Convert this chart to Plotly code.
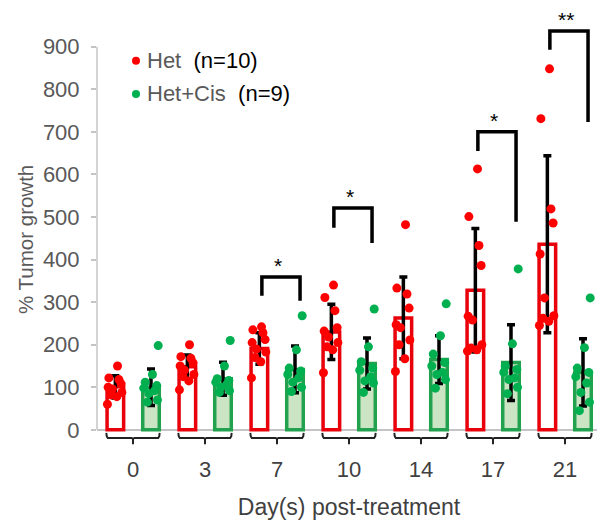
import plotly.graph_objects as go

# ---------------- data ----------------
days = ["0", "3", "7", "10", "14", "17", "21"]

het_mean = [101, 148, 191, 230, 263, 328, 436]
het_sd = [26, 28, 37, 65, 96, 145, 208]
cis_mean = [100, 120, 142, 156, 165, 158, 135]
cis_sd = [43, 39, 55, 60, 56, 89, 79]

het_points = [
    [150, 122, 118, 108, 100, 96, 88, 82, 78, 60],
    [200, 172, 168, 157, 150, 140, 130, 125, 115, 94],
    [242, 235, 228, 212, 205, 190, 183, 170, 160, 122],
    [340, 311, 280, 240, 232, 218, 205, 195, 188, 134],
    [482, 333, 319, 286, 247, 240, 211, 200, 167, 137],
    [613, 501, 433, 386, 267, 258, 200, 192, 188, 185],
    [848, 731, 519, 486, 413, 310, 268, 262, 255, 245],
]
cis_points = [
    [198, 130, 112, 104, 98, 92, 85, 70, 65],
    [210, 150, 120, 116, 112, 106, 100, 92, 88],
    [268, 188, 145, 138, 130, 122, 112, 100, 90],
    [284, 195, 160, 145, 140, 125, 115, 110, 88],
    [296, 221, 178, 158, 150, 135, 130, 118, 98],
    [378, 202, 150, 142, 135, 122, 118, 100, 85],
    [310, 193, 145, 135, 125, 110, 88, 65, 45],
]

# significance brackets: day index, label, left-foot, top, right-foot
sig_day_idx = [2, 3, 5, 6]
sig_labels = ["*", "*", "*", "**"]
sig_left = [315, 475, 655, 893]
sig_top = [359, 521, 700, 937]
sig_right = [303, 439, 489, 723]

y_ticks = [0, 100, 200, 300, 400, 500, 600, 700, 800, 900]

# ---------------- styling ----------------
FONT = "Liberation Sans, Arial, sans-serif"
RED = "#FF0000"
RED_EDGE = "#E8000B"
GREEN = "#00B050"
GREEN_EDGE = "#22A24E"
GREEN_FILL = "#CBE4C3"
AXIS_GREY = "#C4C4C4"
TXT_GREY = "#595959"

OFF_R, OFF_G = -0.245, 0.25
BAR_W = 0.23
JIT_R = [0.03, -0.09, 0.05, 0.08, -0.10, -0.04, 0.09, -0.06, 0.02, -0.11]
JIT_G = [0.10, 0.02, -0.08, 0.08, -0.10, 0.05, -0.03, 0.09, -0.05]

# the page body has a default 8px margin; size the figure to the visible area
BODY = 8
W, H = 605 - BODY, 522 - BODY
PLOT_W = 504

idx = list(range(len(days)))
fig = go.Figure()

fig.add_trace(go.Bar(
    x=[i + OFF_R for i in idx], y=het_mean, width=BAR_W,
    marker=dict(color="white", line=dict(color=RED_EDGE, width=3.5)),
    error_y=dict(type="data", array=het_sd, visible=True, color="black",
                 thickness=3.5, width=4),
    showlegend=False, hoverinfo="skip"))
fig.add_trace(go.Bar(
    x=[i + OFF_G for i in idx], y=cis_mean, width=BAR_W,
    marker=dict(color=GREEN_FILL, line=dict(color=GREEN_EDGE, width=3.5)),
    error_y=dict(type="data", array=cis_sd, visible=True, color="black",
                 thickness=3.5, width=4),
    showlegend=False, hoverinfo="skip"))

# jittered individual points
hx, hy, gx, gy = [], [], [], []
for i in idx:
    for k, v in enumerate(het_points[i]):
        hx.append(i + OFF_R + JIT_R[k % len(JIT_R)])
        hy.append(v)
    for k, v in enumerate(cis_points[i]):
        gx.append(i + OFF_G + JIT_G[k % len(JIT_G)])
        gy.append(v)
fig.add_trace(go.Scatter(x=hx, y=hy, mode="markers",
                         marker=dict(color=RED, size=9), showlegend=False))
fig.add_trace(go.Scatter(x=gx, y=gy, mode="markers",
                         marker=dict(color=GREEN, size=9), showlegend=False))

# significance brackets
bx, by = [], []
for d, l, t, r in zip(sig_day_idx, sig_left, sig_top, sig_right):
    bx += [d - 0.21, d - 0.21, d + 0.32, d + 0.32, None]
    by += [l, t, t, r, None]
fig.add_trace(go.Scatter(x=bx, y=by, mode="lines",
                         line=dict(color="black", width=3.5),
                         showlegend=False, hoverinfo="skip"))
for d, lab, t in zip(sig_day_idx, sig_labels, sig_top):
    fig.add_annotation(x=d + 0.02, y=t, text=lab, showarrow=False,
                       yanchor="bottom", yshift=-2,
                       font=dict(family=FONT, size=21, color="black"))

# curly brackets under each pair
ux, uy = [], []
for i in idx:
    L, R = i - 0.37, i + 0.37
    ux += [L, L + 0.005, L + 0.02, i - 0.02, i, i, None,
           i, i + 0.02, R - 0.02, R - 0.005, R, None]
    uy += [-7, -15, -19, -19, -21, -34, None,
           -21, -19, -19, -15, -7, None]
fig.add_trace(go.Scatter(x=ux, y=uy, mode="lines",
                         line=dict(color="#222222", width=2),
                         showlegend=False, hoverinfo="skip"))

# y axis line (0..900 only)
fig.add_shape(type="line", xref="paper", yref="y", x0=0, x1=0,
              y0=y_ticks[0], y1=y_ticks[-1],
              line=dict(color=AXIS_GREY, width=1.5))

# legend (manual)
leg = [("Het", "(n=10)", RED, 867), ("Het+Cis", "(n=9)", GREEN, 789)]
for name, n, col, yy in leg:
    fig.add_shape(type="circle", xref="paper", yref="y",
                  xsizemode="pixel", ysizemode="pixel",
                  xanchor=(136 - 97) / PLOT_W, yanchor=yy,
                  x0=-4, x1=4, y0=-4, y1=4,
                  fillcolor=col, line=dict(width=0))
    fig.add_annotation(xref="paper", yref="y", x=(145 - 97) / PLOT_W, y=yy,
                       xanchor="left", yanchor="middle", showarrow=False,
                       text=f"<span style='color:{TXT_GREY}'>{name}</span>\u00a0 "
                            f"<span style='color:black'>{n}</span>",
                       font=dict(family=FONT, size=22))

# y title
fig.add_annotation(xref="paper", yref="y", x=-(97 - 26) / PLOT_W, y=446,
                   text="% Tumor growth", textangle=-90, showarrow=False,
                   xanchor="center", yanchor="middle",
                   font=dict(family=FONT, size=20.5, color=TXT_GREY))

left = 97 - BODY
fig.update_layout(
    width=W, height=H,
    margin=dict(l=left, r=W - left - PLOT_W, t=0, b=73, autoexpand=False),
    paper_bgcolor="white", plot_bgcolor="white",
    barmode="overlay",
    font=dict(family=FONT, size=22, color="#404040"),
    xaxis=dict(range=[-0.5, 6.5], tickmode="array", tickvals=idx,
               ticktext=days, showgrid=False, zeroline=False, showline=False,
               ticks="", tickfont=dict(size=22, color="#404040"),
               ticklabelstandoff=5, automargin=False,
               title=dict(text="Day(s) post-treatment", standoff=17,
                          font=dict(size=23, color="#404040"))),
    yaxis=dict(range=[-45, 991], tickmode="array", tickvals=y_ticks,
               showgrid=False, zeroline=True, zerolinecolor=AXIS_GREY,
               zerolinewidth=1.5, showline=False, ticks="outside",
               ticklen=5, tickwidth=1.5, tickcolor=AXIS_GREY,
               tickfont=dict(size=22, color=TXT_GREY),
               ticklabelstandoff=7, automargin=False),
)

fig.write_html("out.html")
